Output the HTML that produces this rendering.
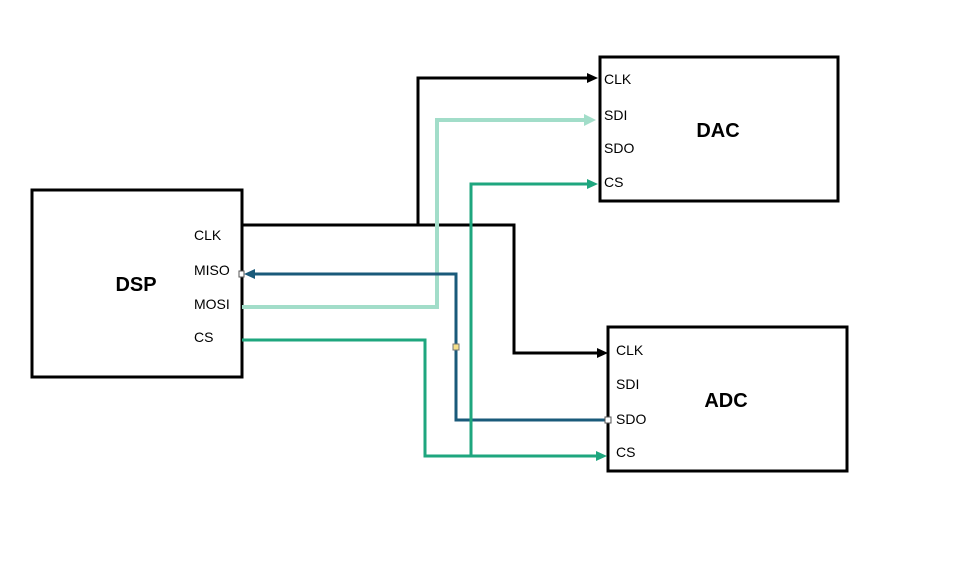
<!DOCTYPE html>
<html><head><style>body{margin:0;background:#fff}svg{display:block}text{font-family:"Liberation Sans",sans-serif}</style></head><body>
<svg width="978" height="564" xmlns="http://www.w3.org/2000/svg">
<rect x="32" y="190" width="210" height="187" fill="#fff" stroke="#000" stroke-width="3"/>
<rect x="600" y="57" width="238" height="144" fill="#fff" stroke="#000" stroke-width="3"/>
<rect x="608" y="327" width="239" height="144" fill="#fff" stroke="#000" stroke-width="3"/>
<g fill="none" stroke-width="3">
<polyline points="242,225 514,225 514,353 600,353" stroke="#000"/>
<polyline points="418,225 418,78 590,78" stroke="#000"/>
<polyline points="242,307 437,307 437,120 586,120" stroke="#a2ddc9" stroke-width="4"/>
<polyline points="608,420 456,420 456,274 254,274" stroke="#1a5a7a"/>
<polyline points="242,340 425,340 425,456 598,456" stroke="#1ea67e"/>
<polyline points="471,456 471,184 590,184" stroke="#1ea67e"/>
</g>
<polygon points="598,78 587,73 587,83" fill="#000"/>
<polygon points="608,353 597,348 597,358" fill="#000"/>
<polygon points="596,120 584,114 584,126" fill="#a2ddc9"/>
<polygon points="598,184 587,179 587,189" fill="#1ea67e"/>
<polygon points="607,456 596,451 596,461" fill="#1ea67e"/>
<polygon points="244,274 255,269 255,279" fill="#1a5a7a"/>
<rect x="239" y="271" width="5" height="6" fill="#fff" stroke="#555" stroke-width="1"/>
<rect x="605" y="417" width="6" height="6" fill="#fff" stroke="#555" stroke-width="1"/>
<rect x="453" y="344" width="6" height="6" fill="#f5e08a" stroke="#777" stroke-width="1"/>
<g font-size="14" fill="#000">
<text x="194" y="240">CLK</text><text x="194" y="275">MISO</text><text x="194" y="309">MOSI</text><text x="194" y="342">CS</text>
<text x="604" y="84">CLK</text><text x="604" y="120">SDI</text><text x="604" y="153">SDO</text><text x="604" y="187">CS</text>
<text x="616" y="355">CLK</text><text x="616" y="389">SDI</text><text x="616" y="424">SDO</text><text x="616" y="457">CS</text>
</g>
<g font-size="20" font-weight="bold" text-anchor="middle">
<text x="136" y="291">DSP</text><text x="718" y="137">DAC</text><text x="726" y="407">ADC</text>
</g>
</svg>
</body></html>
